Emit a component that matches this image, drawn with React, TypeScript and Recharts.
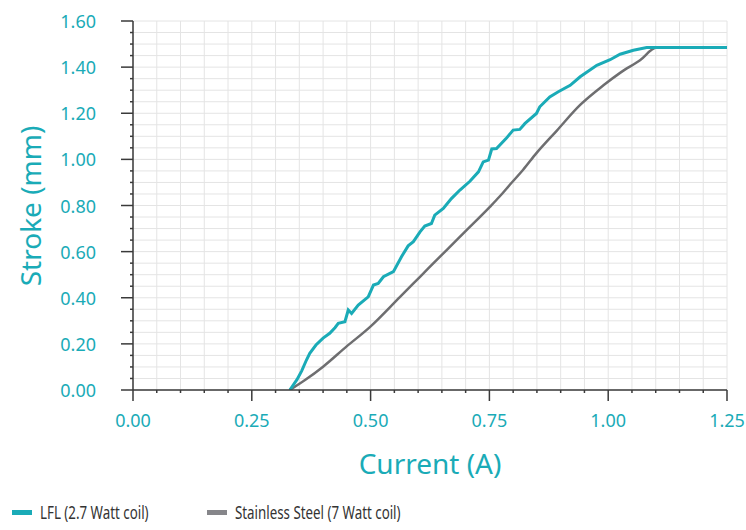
import { CartesianGrid, Label, Legend, Line, LineChart, XAxis, YAxis } from "recharts"

const TEAL = "#1aabb7"
const GREY = "#6e6e70"
const AXIS = "#3a3a3a"

// LFL (2.7 Watt coil)
const lflCurrent = [
  0.33, 0.345, 0.355, 0.365, 0.372, 0.385, 0.4, 0.414, 0.425, 0.432, 0.446, 0.453, 0.46,
  0.474, 0.495, 0.506, 0.516, 0.527, 0.548, 0.565, 0.579, 0.59, 0.604, 0.614, 0.628, 0.635,
  0.653, 0.67, 0.688, 0.709, 0.727, 0.737, 0.748, 0.755, 0.765, 0.785, 0.8, 0.814, 0.825,
  0.849, 0.856, 0.877, 0.895, 0.92, 0.941, 0.976, 1.004, 1.025, 1.053, 1.081, 1.25,
]
const lflStroke = [
  0, 0.045, 0.083, 0.13, 0.159, 0.195, 0.225, 0.246, 0.27, 0.289, 0.296, 0.347, 0.332,
  0.368, 0.404, 0.455, 0.462, 0.491, 0.513, 0.578, 0.625, 0.643, 0.686, 0.711, 0.722, 0.758,
  0.787, 0.83, 0.867, 0.905, 0.946, 0.989, 0.997, 1.045, 1.047, 1.09, 1.127, 1.13, 1.156,
  1.199, 1.228, 1.271, 1.293, 1.321, 1.358, 1.408, 1.432, 1.456, 1.473, 1.485, 1.485,
]

// Stainless Steel (7 Watt coil)
const steelCurrent = [
  0.33, 0.362, 0.4, 0.449, 0.499, 0.562, 0.604, 0.66, 0.702, 0.751, 0.772, 0.793, 0.821,
  0.849, 0.892, 0.941, 0.99, 1.025, 1.067, 1.102, 1.25,
]
const steelStroke = [
  0, 0.043, 0.101, 0.188, 0.274, 0.404, 0.491, 0.607, 0.693, 0.794, 0.84, 0.89, 0.955,
  1.027, 1.125, 1.236, 1.321, 1.375, 1.43, 1.485, 1.485,
]

const xMajor = [0, 0.25, 0.5, 0.75, 1, 1.25]
const yMajor = [0, 0.2, 0.4, 0.6, 0.8, 1, 1.2, 1.4, 1.6]
// minor gridlines every 0.05
const xTicks = Array.from({ length: 26 }, (_, i) => +(i * 0.05).toFixed(2))
const yTicks = Array.from({ length: 33 }, (_, i) => +(i * 0.05).toFixed(2))

const lflData = lflCurrent.map((x, i) => ({ x, y: lflStroke[i] }))
const steelData = steelCurrent.map((x, i) => ({ x, y: steelStroke[i] }))

const FONT = "'Noto Sans', sans-serif"

const isMajor = (v: number, majors: number[]) => majors.some((m) => Math.abs(m - v) < 1e-6)

const XTick = (props: any) => {
  const { x, y, payload } = props
  const major = isMajor(payload.value, xMajor)
  return (
    <g>
      <line x1={x} x2={x} y1={y} y2={y + (major ? 11 : 3)} stroke={AXIS} strokeWidth={1.5} />
      {major && (
        <text x={x} y={y + 37} textAnchor="middle" fill={TEAL} fontSize={18} fontFamily={FONT}>
          {payload.value.toFixed(2)}
        </text>
      )}
    </g>
  )
}

const YTick = (props: any) => {
  const { x, y, payload } = props
  const major = isMajor(payload.value, yMajor)
  return (
    <g>
      <line x1={x} x2={x - (major ? 12 : 3)} y1={y} y2={y} stroke={AXIS} strokeWidth={1.5} />
      {major && (
        <text x={x - 37} y={y} textAnchor="end" dominantBaseline="central" fill={TEAL} fontSize={18} fontFamily={FONT}>
          {payload.value.toFixed(2)}
        </text>
      )}
    </g>
  )
}

const legendItems = [
  { label: "LFL (2.7 Watt coil)", color: TEAL, left: 12 },
  { label: "Stainless Steel (7 Watt coil)", color: "#86868a", left: 207 },
]

// the legend font in the original is a condensed face, squeeze it a bit
const LegendContent = () => (
  <div style={{ position: "relative", height: 30, width: 746 }}>
    {legendItems.map((it) => (
      <div key={it.label} style={{ position: "absolute", left: it.left, top: 0, height: 30, display: "flex", alignItems: "center" }}>
        <span style={{ display: "inline-block", width: 20, height: 5, background: it.color, marginRight: 8 }} />
        <span
          style={{
            display: "inline-block",
            whiteSpace: "nowrap",
            fontFamily: FONT,
            fontSize: 18,
            color: "#333",
            transform: "scaleX(0.74)",
            transformOrigin: "left center",
          }}
        >
          {it.label}
        </span>
      </div>
    ))}
  </div>
)

export default function App() {
  return (
    <div>
      <style>{"body{margin:0}"}</style>
      <LineChart width={746} height={530} margin={{ top: 21, right: 19, left: 0, bottom: 40 }}>
        <CartesianGrid stroke="#e4e4e4" strokeWidth={1} />
        <XAxis
          type="number"
          dataKey="x"
          domain={[0, 1.25]}
          ticks={xTicks}
          interval={0}
          allowDataOverflow
          height={100}
          stroke={AXIS}
          strokeWidth={1.5}
          tickLine={false}
          tickSize={0}
          tickMargin={0}
          tick={<XTick />}
        >
          <Label
            content={() => (
              <text x={430} y={463} textAnchor="middle" dominantBaseline="central" fill={TEAL} fontSize={28} fontFamily={FONT}>
                Current (A)
              </text>
            )}
          />
        </XAxis>
        <YAxis
          type="number"
          dataKey="y"
          domain={[0, 1.6]}
          ticks={yTicks}
          interval={0}
          allowDataOverflow
          width={133}
          stroke={AXIS}
          strokeWidth={1.5}
          tickLine={false}
          tickSize={0}
          tickMargin={0}
          tick={<YTick />}
        >
          <Label
            content={() => (
              <text
                x={30}
                y={206}
                transform="rotate(-90 30 206)"
                textAnchor="middle"
                dominantBaseline="central"
                fill={TEAL}
                fontSize={28}
                fontFamily={FONT}
              >
                Stroke (mm)
              </text>
            )}
          />
        </YAxis>
        <Legend
          layout="horizontal"
          verticalAlign="middle"
          align="center"
          wrapperStyle={{ top: 497, left: 0, width: 746, height: 30 }}
          content={<LegendContent />}
        />
        <Line
          data={steelData}
          dataKey="y"
          type="monotone"
          stroke={GREY}
          strokeWidth={2.5}
          dot={false}
          isAnimationActive={false}
        />
        <Line
          data={lflData}
          dataKey="y"
          type="linear"
          stroke={TEAL}
          strokeWidth={3}
          dot={false}
          isAnimationActive={false}
        />
      </LineChart>
    </div>
  )
}
